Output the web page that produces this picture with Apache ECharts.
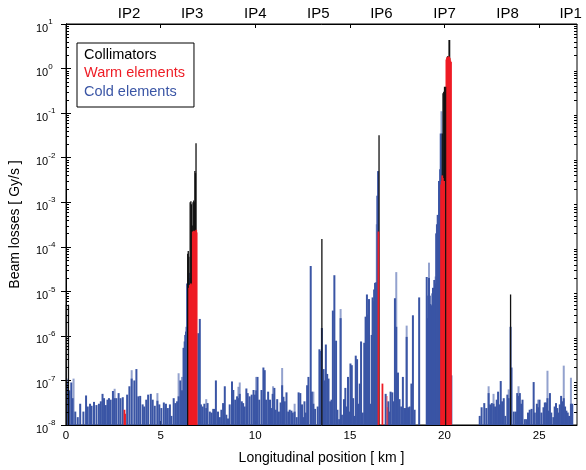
<!DOCTYPE html>
<html><head><meta charset="utf-8">
<script src="https://cdn.jsdelivr.net/npm/echarts@6/dist/echarts.min.js"></script>
<style>html,body{margin:0;padding:0;background:#fff}#c{width:586px;height:470px}</style>
</head><body><div id="c"></div>
<script>
// ---------- data ----------
const ipNames = ['IP2','IP3','IP4','IP5','IP6','IP7','IP8','IP1'];
const ipPositions = [3.333, 6.667, 10, 13.333, 16.667, 20, 23.333, 26.667];
const xTickValues = [0, 5, 10, 15, 20, 25];
const topTickValues = [5, 10, 15, 20, 25];
const yMin = 1e-8, yMax = 10, xMin = 0, xMax = 27;

// [position km, loss Gy/s]
const collimators = [[0.02,5e-6],[0.13,5e-6],
  [6.43,7e-5],[6.46,8e-5],[6.49,6e-5],[6.56,1.0e-3],[6.60,1.05e-3],[6.63,9e-4],[6.67,3e-4],
  [6.71,1.0e-3],[6.75,1.1e-3],[6.78,1.0e-3],[6.81,5e-3],[6.84,4.5e-3],[6.87,2.1e-2],
  [13.52,1.5e-4],[16.54,3.2e-2],
  [19.88,3.5e-2],[19.92,0.28],[19.96,0.3],[20.00,0.39],[20.04,0.35],[20.12,0.5],
  [20.16,1.9],[20.20,1.9],[20.24,4.4],[20.27,4.4],[23.49,8.5e-6]];
const collimatorsFront = [[20.06,0.39]];
const warmElements = [[3.09,2.2e-8],[3.12,1.8e-8],
  [6.51,1.2e-5],[6.54,1.4e-5],[6.57,1.3e-5],[6.60,1.5e-5],[6.63,1.3e-5],[6.66,1.4e-5],
  [6.70,2.2e-4],[6.73,2.1e-4],[6.76,2.3e-4],[6.79,2.2e-4],[6.82,2.0e-4],[6.85,2.2e-4],[6.88,2.4e-4],[6.90,2.1e-4],
  [16.51,2.2e-4],[16.72,8.5e-8],
  [19.82,2.5e-3],[19.85,3e-3],[19.88,4e-3],[19.91,3.5e-3],[19.94,3e-3],[19.97,2.8e-3],[20.00,3e-3],[20.02,2.6e-3],
  [20.10,1.6],[20.13,1.8],[20.16,1.7],[20.19,1.8],[20.22,1.9],[20.25,1.8],[20.28,1.7],[20.31,1.5],[20.34,1.4]];
const warmFaint = [[16.96,4.5e-8],[16.99,2.5e-8]];
const coldLight = [[0.10,1.1e-7],[0.40,1.1e-7],[2.57,6.5e-8],[3.47,1.7e-7],[4.83,5.2e-8],[5.95,1.45e-7],[6.13,1.2e-7],
  [7.41,3.8e-8],[9.11,7.2e-8],[9.18,9e-8],[10.05,1.2e-7],[10.94,7.4e-8],[11.42,1.9e-7],[12.08,3e-8],[13.07,5.6e-8],
  [14.51,4e-6],[16.42,3.2e-4],[17.45,2.7e-5],[18.00,1.7e-6],[19.18,4.4e-5],[19.53,2.15e-5],[19.84,0.11],
  [22.33,7.4e-8],[22.59,5e-8],[23.39,6.3e-8],[23.91,7.4e-8],[24.95,3.7e-8],[25.44,1.65e-7],[26.30,2.15e-7],[26.68,1.15e-7]];
const coldDark = [
  [0.05,9e-8],[0.18,6e-8],[0.28,9e-8],[0.35,4e-8],[0.49,2e-8],[0.62,1.5e-8],[0.75,3e-8],[0.92,2e-8],[1.06,4.6e-8],
  [1.15,2.6e-8],[1.27,3e-8],[1.35,2.7e-8],[1.48,3.3e-8],[1.61,2.8e-8],[1.74,3e-8],[1.84,3.4e-8],[1.93,5e-8],[2.01,4e-8],
  [2.10,2.8e-8],[2.19,3.7e-8],[2.27,4e-8],[2.36,3.7e-8],[2.48,5.8e-8],[2.57,4e-8],[2.66,4e-8],[2.78,5.2e-8],[2.88,4e-8],
  [3.00,4.2e-8],[3.23,4.8e-8],[3.35,7.4e-8],[3.47,1.1e-7],[3.61,1e-7],[3.72,1.8e-7],[3.82,4.4e-8],[3.92,4.5e-8],
  [4.05,2.9e-8],[4.13,2.6e-8],[4.24,3.7e-8],[4.34,4.8e-8],[4.48,5e-8],[4.58,3.7e-8],[4.69,2.7e-8],[4.83,3.5e-8],
  [4.93,2.9e-8],[5.04,2.4e-8],[5.17,3.2e-8],[5.28,3e-8],[5.38,2.4e-8],[5.49,2.9e-8],
  [5.57,1.6e-8],[5.69,4e-8],[5.78,3.1e-8],[5.87,3.4e-8],[5.95,4.4e-8],[6.04,1e-7],[6.13,6e-8],[6.21,5.4e-7],[6.27,7.5e-7],
  [6.30,1.05e-6],[6.34,1.25e-6],[6.37,1.6e-6],[6.40,1.5e-5],[6.45,1.5e-5],[6.49,2.6e-5],[6.52,2e-5],
  [6.99,1.15e-6],[7.07,2.4e-6],[7.13,2.9e-8],[7.22,2.6e-8],[7.31,3e-8],[7.41,2.4e-8],[7.48,3.1e-8],[7.60,2e-8],[7.69,1.9e-8],
  [7.78,2.3e-8],[7.86,2.3e-8],[7.92,1e-7],[8.03,2e-8],[8.13,1.5e-8],[8.21,2.2e-8],[8.30,3.1e-8],[8.39,7.4e-8],[8.47,1.7e-8],
  [8.56,1.4e-8],[8.65,2.9e-8],[8.77,9.5e-8],[8.84,6.1e-8],[8.94,3.7e-8],[9.04,4.4e-8],[9.11,4e-8],[9.18,5e-8],[9.29,3.4e-8],
  [9.36,3.1e-8],[9.44,2.6e-8],[9.53,6.6e-8],[9.60,5.2e-8],[9.70,4.4e-8],[9.81,4.8e-8],[9.91,6.1e-8],[9.98,4.8e-8],
  [10.05,6e-8],[10.12,1.2e-7],[10.21,3.7e-8],[10.33,6.1e-8],[10.43,1.95e-7],[10.50,1.7e-7],[10.57,3.7e-8],[10.68,5.6e-8],
  [10.78,3.7e-8],[10.85,2.4e-8],[10.92,5e-8],
  [11.01,6.8e-8],[11.08,2.2e-8],[11.16,3.8e-8],[11.25,2e-8],[11.34,3.2e-8],[11.42,7.8e-8],[11.49,4.3e-8],[11.56,3.4e-8],
  [11.65,5.4e-8],[11.74,2e-8],[11.82,2.2e-8],[11.91,2.1e-8],[11.98,1.9e-8],[12.08,2e-8],[12.19,1.5e-8],[12.29,5.4e-8],
  [12.38,5.2e-8],[12.47,2.9e-8],[12.53,1.5e-8],[12.60,3.4e-8],[12.67,1.9e-8],[12.74,7.8e-8],[12.81,1.2e-7],[12.93,3.7e-5],
  [12.99,5.6e-8],[13.07,3e-8],[13.16,2.3e-8],[13.30,2.6e-8],[13.39,5e-7],[13.45,4.6e-7],[13.52,1.5e-6],[13.61,1.8e-7],
  [13.68,1e-7],[13.73,6.4e-7],[13.80,1.4e-7],[13.87,1.1e-7],[13.96,3.4e-8],[14.03,3.7e-8],[14.10,3.7e-6],[14.18,2.3e-5],
  [14.27,7.8e-7],[14.34,2.2e-8],[14.43,1.35e-8],[14.51,2.5e-6],[14.58,1.7e-8],[14.69,3.8e-8],[14.76,6.8e-8],[14.83,2.6e-8],
  [14.90,1.2e-7],[14.97,2e-8],[15.03,2.4e-7],[15.10,2.2e-7],[15.17,4e-8],[15.24,1.6e-8],[15.31,3.6e-7],[15.38,3e-7],
  [15.45,3e-8],[15.52,8.5e-8],[15.59,7.5e-7],[15.68,1.9e-8],[15.76,7e-7],[15.83,2.7e-6],[15.90,8.5e-6],[15.96,3e-6],
  [16.01,6.7e-6],[16.08,3e-8],[16.15,1.05e-6],[16.20,7.3e-6],[16.24,6e-6],[16.28,1.1e-5],[16.33,1.55e-5],[16.37,1.55e-5],
  [16.40,1.6e-5],[16.45,1.4e-3],[16.49,5e-3],
  [16.89,5e-8],[17.03,3.4e-8],[17.09,2e-8],[17.15,5.6e-8],[17.24,5.4e-8],[17.31,3.4e-8],[17.38,7e-6],[17.45,1.6e-6],
  [17.54,1.5e-7],[17.62,3.8e-8],[17.71,2.6e-8],[17.80,1.2e-7],[17.87,2.4e-8],[17.94,2.4e-8],[18.00,9.5e-7],[18.07,2.5e-8],
  [18.16,2.6e-8],[18.25,8.5e-8],[18.33,2.9e-6],[18.42,2.2e-8],[18.66,7.3e-6],
  [19.06,2.1e-5],[19.10,2.5e-6],[19.14,8e-6],[19.18,2e-5],[19.22,8e-6],[19.25,5.2e-6],[19.29,4.8e-6],[19.32,4.8e-6],
  [19.36,9e-6],[19.39,1.2e-5],[19.43,1e-5],[19.46,1.8e-5],[19.50,1.5e-5],[19.56,2e-4],[19.60,3.2e-4],[19.64,5.2e-4],
  [19.67,3.7e-4],[19.71,3e-3],[19.74,3e-3],[19.77,5.5e-3],[19.80,3.5e-2],[20.36,1.3e-7],
  [21.86,1.6e-8],[21.96,2.5e-8],[22.10,3.1e-8],[22.21,2.4e-8],[22.33,5.2e-8],[22.41,2.9e-8],[22.50,3.1e-8],[22.59,3e-8],
  [22.67,2.6e-8],[22.76,3.7e-8],[22.83,5.6e-8],[22.90,2.9e-8],[22.97,9.7e-8],[23.04,3.4e-8],[23.13,4e-8],[23.21,1.6e-8],
  [23.32,4.8e-8],[23.39,4e-8],[23.49,1.6e-6],[23.54,1.95e-7],[23.66,2e-8],[23.77,2e-8],[23.84,5.2e-8],[23.91,4.5e-8],
  [23.98,5.2e-8],[24.05,3e-8],[24.12,3.7e-8],[24.24,1.35e-8],[24.32,1.35e-8],[24.41,1.9e-8],[24.50,2.2e-8],[24.60,2.3e-8],
  [24.71,9.2e-8],[24.77,1.9e-8],[24.88,3e-8],[24.95,2.5e-8],[25.02,3.7e-8],[25.12,1.9e-8],[25.23,2.5e-8],[25.30,3.2e-8],
  [25.37,3.2e-8],[25.44,4e-8],[25.50,2.1e-8],[25.57,5.2e-8],[25.64,1.9e-8],[25.75,1.5e-8],[25.82,2.6e-8],[25.89,3.1e-8],
  [25.96,2.4e-8],[26.02,1.9e-8],[26.09,2.9e-8],[26.16,4.5e-8],[26.23,3.4e-8],[26.30,4e-8],[26.37,2.6e-8],[26.44,2.1e-8],
  [26.51,1.9e-8],[26.58,1.6e-8],[26.68,3e-8],[26.75,3e-8]];

// ---------- chart ----------
const FONT = '"Liberation Sans", Arial, Helvetica, sans-serif';
const minorTicks = [];
for (let e = -8; e < 1; e++) for (let k = 2; k <= 9; k++) minorTicks.push(k * Math.pow(10, e));

function spikes(color, width) {
  return function (params, api) {
    const top = api.coord([api.value(0), api.value(1)]);
    const base = api.coord([api.value(0), yMin]);
    return { type: 'rect', shape: { x: top[0] - width / 2, y: top[1], width: width, height: base[1] - top[1] },
      style: { fill: color } };
  };
}
function minorTickRender(params, api) {
  const l = api.coord([xMin, api.value(1)]);
  const r = api.coord([xMax, api.value(1)]);
  const y = Math.round(l[1]) + 0.5;
  return { type: 'group', children: [
    { type: 'line', shape: { x1: l[0], y1: y, x2: l[0] + 3, y2: y }, style: { stroke: '#000', lineWidth: 1 } },
    { type: 'line', shape: { x1: r[0] - 3, y1: y, x2: r[0], y2: y }, style: { stroke: '#000', lineWidth: 1 } }
  ] };
}
const supLabel = function (v) {
  const e = Math.round(Math.log10(v));
  return '{b|10}{s|' + e + '}';
};
const yLabelRich = {
  b: { fontFamily: FONT, fontSize: 11, color: '#000', lineHeight: 20, verticalAlign: 'bottom' },
  s: { fontFamily: FONT, fontSize: 8, color: '#000', lineHeight: 9, verticalAlign: 'top', padding: [4, 0, 0, 0] }
};
const BLUE = '#3a55a5';
const chart = echarts.init(document.getElementById('c'), null, { renderer: 'canvas' });
chart.setOption({
  animation: false,
  backgroundColor: '#fff',
  grid: { left: 59, right: 9, top: 24, bottom: 34, show: true, borderColor: '#000', borderWidth: 1, backgroundColor: 'transparent' },
  legend: {
    left: 77, top: 43, orient: 'vertical', icon: 'none', itemWidth: 0, itemHeight: 14, itemGap: 3.5,
    padding: [4, 9, 8, 2], borderColor: '#000', borderWidth: 1, backgroundColor: '#fff', selectedMode: false,
    textStyle: { fontFamily: FONT, fontSize: 14.5, lineHeight: 14 },
    data: [
      { name: 'Collimators', textStyle: { color: '#000' } },
      { name: 'Warm elements', textStyle: { color: '#ee1c25' } },
      { name: 'Cold elements', textStyle: { color: BLUE } }
    ]
  },
  xAxis: [{
    type: 'value', position: 'bottom', min: xMin, max: xMax,
    name: 'Longitudinal position [ km ]', nameLocation: 'middle', nameGap: 26,
    nameTextStyle: { fontFamily: FONT, fontSize: 14, color: '#000' },
    axisLine: { lineStyle: { color: '#000', width: 1 } },
    axisTick: { inside: true, length: 4, customValues: xTickValues, lineStyle: { color: '#000' } },
    axisLabel: { customValues: xTickValues, fontFamily: FONT, fontSize: 11.5, color: '#000', margin: 5 },
    splitLine: { show: false }
  }, {
    type: 'value', position: 'top', min: xMin, max: xMax,
    axisLine: { lineStyle: { color: '#000', width: 1 } },
    axisTick: { inside: true, length: 4, customValues: topTickValues, lineStyle: { color: '#000' } },
    axisLabel: { customValues: ipPositions, fontFamily: FONT, fontSize: 15, color: '#000', margin: 3,
      formatter: function (v) { let best = 0; ipPositions.forEach((p, i) => { if (Math.abs(p - v) < Math.abs(ipPositions[best] - v)) best = i; }); return ipNames[best]; } },
    splitLine: { show: false }
  }],
  yAxis: [{
    type: 'log', logBase: 10, position: 'left', min: yMin, max: yMax,
    name: 'Beam losses [ Gy/s ]', nameLocation: 'middle', nameGap: 44,
    nameTextStyle: { fontFamily: FONT, fontSize: 14, color: '#000' },
    axisLine: { lineStyle: { color: '#000', width: 1 } },
    axisTick: { inside: true, length: 5, lineStyle: { color: '#000' } },
    axisLabel: { formatter: supLabel, rich: yLabelRich, align: 'left', margin: 30 },
    splitLine: { show: false }
  }, {
    type: 'log', logBase: 10, position: 'right', min: yMin, max: yMax,
    axisLine: { lineStyle: { color: '#000', width: 1 } },
    axisTick: { inside: true, length: 5, lineStyle: { color: '#000' } },
    axisLabel: { show: false }, splitLine: { show: false }
  }],
  series: [
    { type: 'custom', name: 'Cold elements', renderItem: spikes('rgba(58,85,165,0.55)', 2.0), data: coldLight, clip: true, silent: true },
    { type: 'custom', name: 'Cold elements', renderItem: spikes(BLUE, 2.0), data: coldDark, clip: true, silent: true },
    { type: 'custom', name: 'Collimators', renderItem: spikes('#111', 1.3), data: collimators, clip: true, silent: true },
    { type: 'custom', name: 'Warm elements', renderItem: spikes('#ee1c25', 1.8), data: warmElements, clip: true, silent: true },
    { type: 'custom', name: 'Warm elements', renderItem: spikes('rgba(238,28,37,0.45)', 1.6), data: warmFaint, clip: true, silent: true },
    { type: 'custom', name: 'Collimators', renderItem: spikes('#111', 1.2), data: collimatorsFront, clip: true, silent: true },
    { type: 'custom', name: 'ticks', renderItem: minorTickRender, data: minorTicks.map(v => [xMin, v]), silent: true }
  ]
});
</script>
</body></html>
